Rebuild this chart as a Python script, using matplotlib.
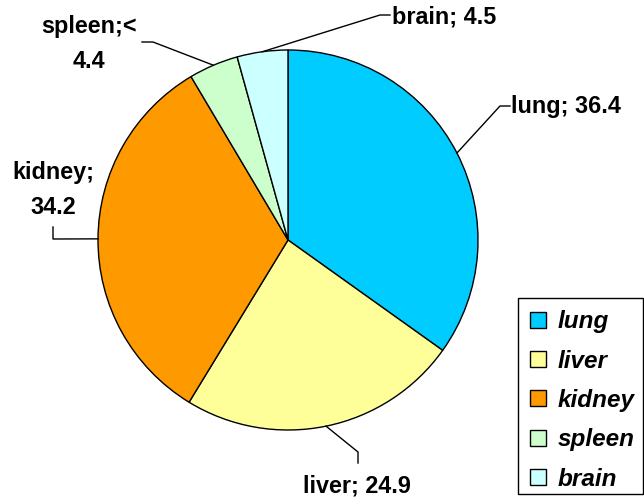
import matplotlib
matplotlib.use("Agg")
import matplotlib.pyplot as plt
import numpy as np
from matplotlib.patches import Patch, Rectangle

organs = ["lung", "liver", "kidney", "spleen", "brain"]
values = [36.4, 24.9, 34.2, 4.4, 4.5]
colors = ["#00CCFF", "#FFFF99", "#FF9900", "#CCFFCC", "#CCFFFF"]

W, H = 644, 500
fig = plt.figure(figsize=(W / 100, H / 100), dpi=100)
ax = fig.add_axes([0, 0, 1, 1])

cx, cy, r = 288, 260, 190
wedges, _ = ax.pie(values, colors=colors, startangle=90, counterclock=False,
                   center=(cx, cy), radius=r, frame=True,
                   wedgeprops=dict(edgecolor="black", linewidth=1.0))
ax.set_xlim(0, W)
ax.set_ylim(0, H)
ax.set_aspect("equal")
ax.axis("off")

font = dict(family="Liberation Sans", weight="bold", fontsize=16.8, color="black")

label_text = {
    "lung": f"lung; {values[0]}",
    "liver": f"liver; {values[1]}",
    "kidney": f"kidney;\n{values[2]}",
    "spleen": f"spleen;<\n{values[3]}",
    "brain": f"brain; {values[4]}",
}
# leader elbow, leader end, text anchor (pixel coords from top-left)
layout = {
    "lung":   dict(elbow=(500, 106), end=(510, 106), pos=(511, 106), ha="left"),
    "liver":  dict(elbow=(358, 452), end=(358, 463), pos=(357, 486), ha="center"),
    "kidney": dict(elbow=(53, 239), end=(53, 227), pos=(53, 190), ha="center"),
    "spleen": dict(elbow=(153, 42), end=(142, 42), pos=(89, 44), ha="center"),
    "brain":  dict(elbow=(380, 15), end=(390, 15), pos=(392, 17), ha="left"),
}

for w, name in zip(wedges, organs):
    mid = np.deg2rad((w.theta1 + w.theta2) / 2)
    px, py = cx + r * np.cos(mid), cy + r * np.sin(mid)
    L = layout[name]
    ex, ey = L["elbow"]
    fx, fy = L["end"]
    ax.plot([px, ex, fx], [py, H - ey, H - fy], color="black", lw=1.0)
    tx, ty = L["pos"]
    ax.text(tx, H - ty, label_text[name], ha=L["ha"], va="center",
            multialignment="center", linespacing=1.65, **font)

# legend entries, with a plain box drawn around them
handles = [Patch(facecolor=c, edgecolor="black", linewidth=1.0) for c in colors]
leg = fig.legend(handles, organs, loc="upper left",
                 bbox_to_anchor=(517 / W, 1 - 493 / H, 126 / W, 196 / H), mode="expand",
                 borderaxespad=0, frameon=False,
                 handlelength=0.64, handleheight=0.64, handletextpad=0.47,
                 labelspacing=0.67, borderpad=0.55,
                 prop=dict(family="Liberation Sans", weight="bold", style="italic", size=17.5))
fig.patches.append(Rectangle((517.5 / W, 1 - 493.5 / H), 125 / W, 196 / H,
                             transform=fig.transFigure, fill=False,
                             edgecolor="black", linewidth=1.0))

fig.savefig("out.png", dpi=100, facecolor="white")
